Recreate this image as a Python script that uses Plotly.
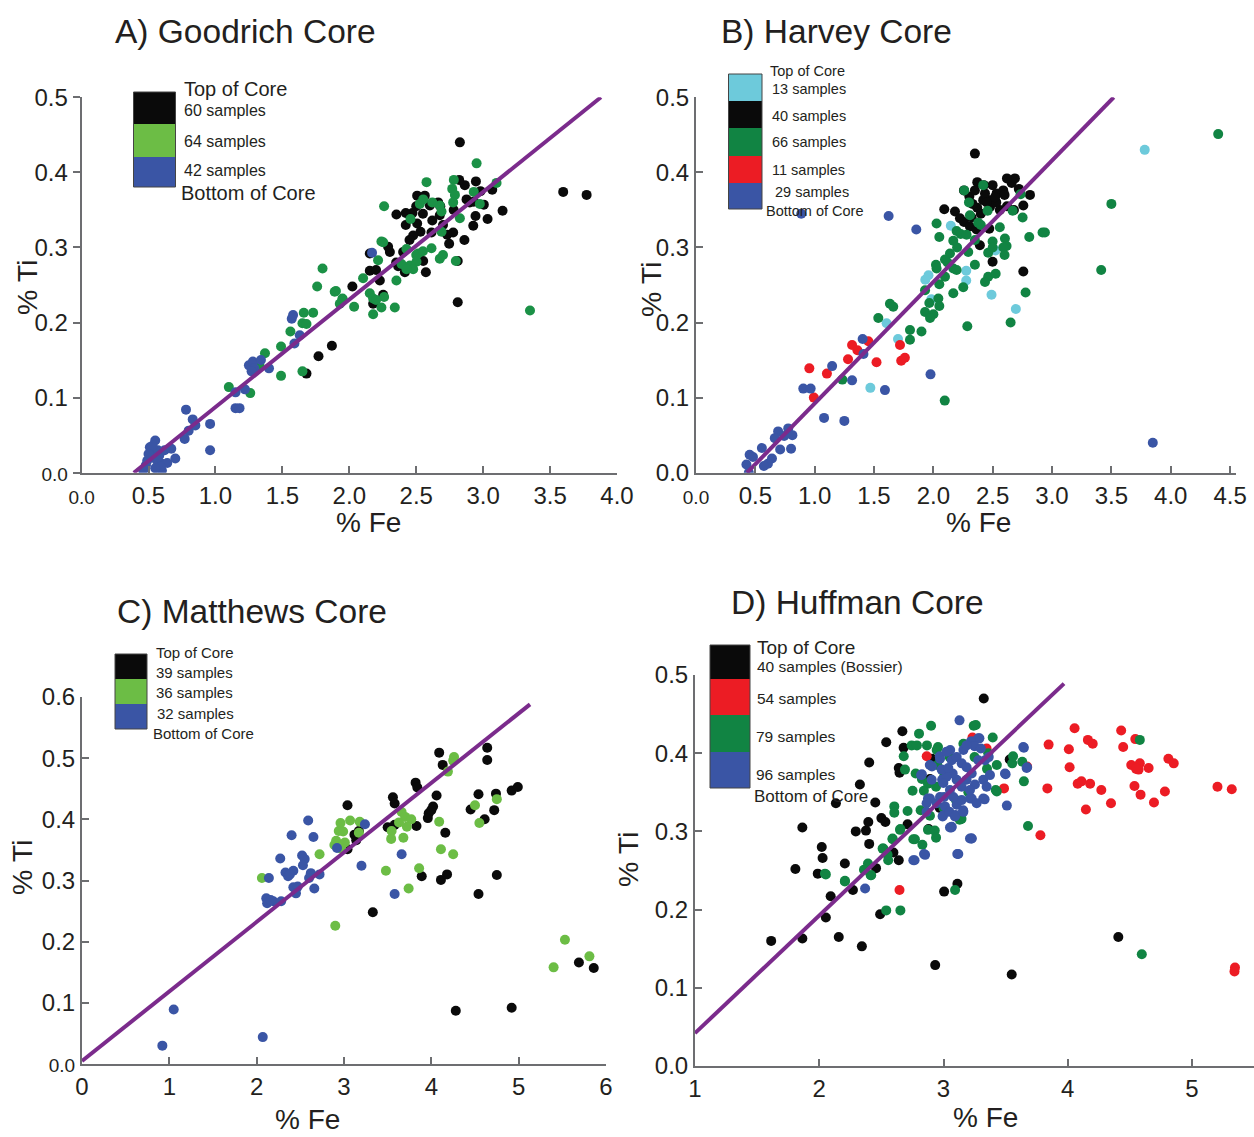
import plotly.graph_objects as go

W, H = 1254, 1137

# ---------------- DATA ----------------
# A) Goodrich Core
A_black_fe = [2.826,3.598,3.773,2.81,3.145,3.033,2.926,2.943,3.005,3.068,2.946,2.863,2.821,2.93,2.876,2.507,2.564,2.602,2.664,2.676,2.472,2.422,2.352,2.507,2.422,2.532,2.477,2.614,2.746,2.776,2.731,2.86,2.303,2.29,2.153,2.402,2.552,2.572,2.415,2.365,2.153,2.228,2.023,2.81,2.253,2.178,1.68,1.77,1.87,2.62,2.70,2.45,2.55,2.78,2.90,2.98,2.50,2.68,2.35,2.20]
A_black_ti = [0.440,0.374,0.370,0.227,0.349,0.338,0.329,0.342,0.357,0.377,0.388,0.383,0.390,0.361,0.364,0.369,0.369,0.356,0.360,0.343,0.346,0.346,0.344,0.332,0.330,0.321,0.316,0.320,0.305,0.320,0.317,0.310,0.294,0.301,0.292,0.294,0.282,0.267,0.267,0.275,0.269,0.256,0.248,0.282,0.237,0.225,0.132,0.155,0.169,0.336,0.330,0.310,0.345,0.350,0.360,0.375,0.355,0.355,0.280,0.270]
A_green_fe = [2.951,2.577,2.781,2.769,2.789,2.776,2.93,2.975,3.10,2.26,2.527,2.552,2.676,2.689,2.826,2.457,2.689,2.253,2.215,2.427,2.514,2.614,2.676,2.796,2.39,2.452,2.502,2.477,2.427,2.103,2.352,1.891,1.949,1.929,2.036,2.153,2.178,2.26,2.34,2.178,3.35,1.80,1.76,1.90,1.95,1.73,1.66,1.65,1.68,1.56,1.49,1.37,1.49,1.65,1.10,1.26,2.24,2.50,2.55,2.20,2.24,2.62,2.70,1.33]
A_green_ti = [0.412,0.387,0.390,0.378,0.370,0.360,0.374,0.358,0.386,0.355,0.358,0.364,0.356,0.348,0.339,0.338,0.321,0.307,0.283,0.298,0.292,0.299,0.285,0.282,0.278,0.276,0.281,0.271,0.271,0.259,0.256,0.241,0.232,0.225,0.221,0.239,0.232,0.234,0.220,0.211,0.216,0.272,0.248,0.242,0.231,0.213,0.213,0.199,0.198,0.188,0.168,0.159,0.129,0.135,0.114,0.106,0.308,0.290,0.295,0.230,0.220,0.360,0.290,0.142]
A_blue_fe = [0.46,0.48,0.51,0.52,0.55,0.57,0.58,0.60,0.60,0.64,0.67,0.70,0.54,0.49,0.77,0.78,0.80,0.83,0.85,0.96,0.96,1.15,1.15,1.18,1.22,1.25,1.28,1.29,1.34,1.40,1.57,1.58,1.59,1.63,2.17,0.53,0.50,0.56,0.62,0.59,1.27,0.55]
A_blue_ti = [0.003,0.010,0.034,0.028,0.043,0.030,0.023,0.012,0.003,0.013,0.032,0.019,0.021,0.016,0.045,0.084,0.056,0.071,0.063,0.065,0.030,0.107,0.086,0.086,0.111,0.143,0.148,0.139,0.150,0.139,0.205,0.210,0.172,0.183,0.293,0.036,0.025,0.017,0.030,0.008,0.135,0.006]
A_line_fe = [0.39, 3.88]
A_line_ti = [0.0, 0.5]

# B) Harvey Core
B_black_fe = [2.35,2.37,2.258,2.303,2.35,2.426,2.499,2.533,2.589,2.66,2.687,2.814,2.758,2.679,2.471,2.42,2.37,2.092,2.182,2.224,2.258,2.322,2.308,2.364,2.471,2.392,2.499,2.758,2.435,2.477,2.56,2.45,2.60,2.40,2.53,2.62,2.62,2.52,2.33,2.72]
B_black_ti = [0.425,0.387,0.376,0.368,0.376,0.383,0.383,0.372,0.376,0.386,0.392,0.370,0.356,0.350,0.363,0.363,0.353,0.351,0.348,0.339,0.334,0.340,0.328,0.324,0.325,0.303,0.281,0.268,0.372,0.354,0.350,0.360,0.370,0.345,0.360,0.355,0.392,0.367,0.358,0.378]
B_cyan_fe = [3.781,2.147,1.959,1.932,2.277,2.277,2.524,1.983,2.49,2.695,1.702,1.469,1.606]
B_cyan_ti = [0.430,0.329,0.263,0.257,0.269,0.256,0.296,0.231,0.237,0.218,0.178,0.113,0.199]
B_green_fe = [2.42,2.26,2.735,2.668,2.752,2.457,2.308,2.027,2.378,2.56,2.92,2.808,2.05,2.196,2.23,2.168,2.603,2.499,2.617,2.589,2.294,2.462,2.14,2.098,2.022,2.027,2.168,2.196,2.35,2.098,2.05,2.462,2.435,2.525,2.252,2.168,2.777,2.042,1.93,2.05,1.966,1.93,2.0,1.972,1.634,1.662,1.536,1.803,1.90,1.803,2.286,2.651,3.50,3.414,4.40,2.94,2.096,1.233,2.20,2.35,2.12,2.60,2.30,2.50,2.40,2.28]
B_green_ti = [0.383,0.376,0.371,0.349,0.340,0.349,0.343,0.332,0.333,0.327,0.320,0.314,0.314,0.322,0.318,0.309,0.312,0.308,0.302,0.300,0.294,0.293,0.292,0.284,0.277,0.272,0.272,0.270,0.277,0.261,0.251,0.261,0.254,0.265,0.247,0.239,0.240,0.232,0.243,0.222,0.226,0.214,0.211,0.206,0.225,0.221,0.206,0.190,0.188,0.177,0.195,0.200,0.358,0.270,0.451,0.320,0.096,0.124,0.300,0.310,0.280,0.290,0.360,0.300,0.330,0.317]
B_red_fe = [0.955,0.993,1.103,1.281,1.315,1.36,1.452,1.521,1.719,1.729,1.76]
B_red_ti = [0.139,0.100,0.132,0.151,0.170,0.163,0.175,0.147,0.170,0.149,0.153]
B_blue_fe = [0.887,1.623,1.856,1.404,1.411,1.147,0.904,0.966,1.315,1.592,1.976,1.079,1.25,3.849,0.692,0.664,0.777,0.812,0.743,0.555,0.709,0.801,0.640,0.606,0.572,0.452,0.425,0.445,0.48]
B_blue_ti = [0.345,0.342,0.324,0.178,0.158,0.142,0.112,0.112,0.123,0.110,0.131,0.073,0.069,0.040,0.055,0.046,0.059,0.050,0.049,0.033,0.031,0.032,0.019,0.012,0.009,0.024,0.011,0.000,0.021]
B_line_fe = [0.43, 3.52]
B_line_ti = [0.0, 0.5]

# C) Matthews Core
C_black_fe = [3.04,3.17,3.14,3.04,3.56,3.58,3.50,3.58,3.82,3.84,3.83,4.09,4.13,4.06,4.02,3.97,3.96,4.16,4.64,4.64,4.54,4.45,4.61,4.72,4.74,4.92,4.99,3.89,4.11,4.18,4.75,4.54,3.33,4.28,4.92,5.69,5.86,3.12,4.0]
C_black_ti = [0.423,0.381,0.366,0.351,0.436,0.426,0.387,0.391,0.460,0.452,0.389,0.509,0.489,0.439,0.421,0.410,0.402,0.378,0.517,0.497,0.441,0.416,0.400,0.415,0.442,0.447,0.453,0.307,0.301,0.310,0.309,0.278,0.248,0.087,0.092,0.166,0.157,0.375,0.415]
C_green_fe = [2.06,2.72,2.90,2.91,2.94,2.99,2.96,3.07,3.18,3.01,3.17,3.48,3.545,3.54,3.68,3.66,3.70,3.77,3.72,3.86,3.74,4.09,4.11,4.25,4.19,4.26,4.25,4.50,4.55,4.75,5.40,5.53,5.81,3.63,2.97,2.89]
C_green_ti = [0.304,0.343,0.226,0.365,0.381,0.380,0.394,0.398,0.396,0.362,0.378,0.316,0.381,0.368,0.370,0.412,0.404,0.400,0.388,0.320,0.287,0.396,0.351,0.343,0.478,0.502,0.496,0.423,0.394,0.433,0.158,0.203,0.176,0.395,0.352,0.358]
C_blue_fe = [0.92,1.05,2.07,2.59,2.40,2.65,2.27,2.52,2.55,2.53,2.14,2.33,2.42,2.36,2.62,2.72,2.60,2.42,2.47,2.66,2.45,2.11,2.12,2.19,2.28,2.92,3.24,3.20,3.66,3.58,2.16,2.38]
C_blue_ti = [0.030,0.089,0.044,0.398,0.374,0.371,0.336,0.341,0.335,0.325,0.304,0.313,0.316,0.307,0.312,0.310,0.304,0.289,0.290,0.287,0.279,0.271,0.263,0.266,0.266,0.353,0.392,0.324,0.343,0.278,0.268,0.310]
C_line_fe = [0.0, 5.13]
C_line_ti = [0.005, 0.588]

# D) Huffman Core
D_black_fe = [3.324,2.669,2.539,2.679,2.646,2.64,2.402,2.327,2.134,2.451,1.864,2.294,2.376,2.395,2.50,2.532,2.402,2.02,2.027,2.206,1.808,1.988,2.457,2.64,2.597,2.711,2.891,2.907,2.092,2.271,2.053,2.49,1.613,1.864,2.157,2.343,3.005,3.112,2.933,3.549,4.407,3.533,2.88,2.97]
D_black_ti = [0.470,0.428,0.414,0.407,0.375,0.381,0.388,0.360,0.336,0.337,0.305,0.300,0.301,0.312,0.317,0.312,0.284,0.280,0.266,0.259,0.252,0.246,0.253,0.263,0.273,0.309,0.367,0.393,0.217,0.225,0.190,0.194,0.160,0.163,0.165,0.153,0.223,0.233,0.129,0.117,0.165,0.392,0.303,0.330]
D_red_fe = [4.055,3.846,4.009,4.162,4.201,4.43,4.446,4.544,4.511,4.58,4.57,4.651,4.81,4.853,4.015,3.836,4.08,4.11,4.18,4.27,4.537,4.586,4.782,4.146,4.348,4.694,5.205,5.32,5.346,5.342,3.78,3.487,2.646,2.865,3.233,3.347,3.673,4.55]
D_red_ti = [0.432,0.411,0.405,0.417,0.412,0.429,0.408,0.418,0.385,0.387,0.379,0.381,0.393,0.387,0.382,0.355,0.361,0.364,0.361,0.353,0.358,0.347,0.351,0.328,0.336,0.337,0.357,0.354,0.126,0.121,0.295,0.355,0.225,0.396,0.420,0.406,0.383,0.380]
D_green_fe = [2.90,3.243,3.26,2.803,3.396,4.58,2.744,2.786,2.867,2.956,2.68,2.69,2.776,2.826,2.875,2.751,2.842,2.94,3.005,3.429,3.553,3.634,3.647,3.429,3.68,2.604,2.604,2.711,2.816,2.891,2.875,2.93,2.94,2.77,2.83,2.59,2.653,2.516,2.555,2.55,2.392,2.418,2.366,2.206,2.053,2.539,2.653,3.093,4.596,3.145,2.945,3.16,3.36,3.56,3.42,3.13,2.51,2.59,2.65,2.757,2.414,2.36,2.207,2.046,3.05,3.10,3.20,3.00,3.35,2.95,3.25]
D_green_ti = [0.435,0.435,0.436,0.425,0.420,0.417,0.410,0.410,0.410,0.408,0.396,0.379,0.374,0.367,0.361,0.352,0.352,0.357,0.370,0.385,0.387,0.389,0.364,0.351,0.307,0.332,0.324,0.326,0.327,0.320,0.302,0.301,0.292,0.290,0.283,0.290,0.303,0.278,0.263,0.270,0.259,0.244,0.251,0.236,0.245,0.199,0.199,0.225,0.143,0.316,0.404,0.412,0.400,0.396,0.353,0.315,0.278,0.291,0.302,0.290,0.244,0.251,0.237,0.246,0.395,0.340,0.350,0.330,0.380,0.385,0.395]
D_blue_fe = [3.129,3.289,3.233,3.647,3.673,3.50,3.51,3.331,3.227,3.158,3.096,2.995,3.064,3.227,3.119,2.852,2.767,2.369,2.826,2.907,2.972,3.054,3.364,2.989,3.005,2.875,3.28,3.22,3.25,3.30,3.334,2.89,2.82,2.97,3.025,3.066,3.106,3.146,3.186,3.227,3.186,3.253,3.146,3.106,3.074,3.025,2.999,3.052,2.972,2.891,2.864,2.945,3.012,3.106,3.146,3.213,3.32,3.267,3.495,3.669,3.642,3.213,3.111,3.066,2.993,2.757,2.843,3.047,3.092,3.16,2.864,2.905,2.985,3.039,3.16,3.186,3.28,3.32,3.374,3.347,3.213,3.079,3.226,3.052]
D_blue_ti = [0.442,0.419,0.415,0.407,0.382,0.373,0.333,0.341,0.342,0.327,0.321,0.320,0.305,0.291,0.271,0.270,0.263,0.227,0.373,0.383,0.393,0.404,0.395,0.366,0.344,0.342,0.419,0.415,0.409,0.406,0.391,0.385,0.372,0.396,0.402,0.391,0.395,0.387,0.382,0.374,0.366,0.360,0.357,0.366,0.374,0.370,0.362,0.353,0.344,0.342,0.336,0.336,0.332,0.334,0.340,0.342,0.342,0.336,0.374,0.381,0.408,0.291,0.271,0.306,0.319,0.263,0.271,0.325,0.319,0.325,0.325,0.366,0.379,0.381,0.404,0.410,0.391,0.366,0.372,0.357,0.353,0.344,0.291,0.305]
D_line_fe = [1.0, 3.97]
D_line_ti = [0.042, 0.489]

# Legend texts
A_leg = ["60 samples", "64 samples", "42 samples"]
B_leg = ["13 samples", "40 samples", "66 samples", "11 samples", "29 samples"]
C_leg = ["39 samples", "36 samples", "32 samples"]
D_leg = ["40 samples (Bossier)", "54 samples", "79 samples", "96 samples"]

# ---------------- STYLE ----------------
BLACK = "#0a0a0a"
GREEN_A = "#1b9146"
LGREEN = "#6cbd45"
DGREEN = "#118443"
BLUE = "#3a55a5"
CYAN = "#6dcadb"
RED = "#ec1c24"
PURPLE = "#7b2b8c"
TXT = "#231f20"
AXC = "#6d6e71"
FONT = "Liberation Sans, Arial, sans-serif"

def px(x): return x / W
def py(y): return 1 - y / H

fig = go.Figure()

def pts(fe, ti, color, ax, size=10):
    fig.add_trace(go.Scatter(x=fe, y=ti, mode="markers", xaxis=ax[0], yaxis=ax[1],
                             marker=dict(color=color, size=size, line=dict(width=0)),
                             showlegend=False, hoverinfo="x+y"))

def line(fe, ti, ax):
    fig.add_trace(go.Scatter(x=fe, y=ti, mode="lines", xaxis=ax[0], yaxis=ax[1],
                             line=dict(color=PURPLE, width=4), showlegend=False))

axA, axB, axC, axD = ("x", "y"), ("x2", "y2"), ("x3", "y3"), ("x4", "y4")
pts(A_black_fe, A_black_ti, BLACK, axA)
pts(A_green_fe, A_green_ti, GREEN_A, axA)
pts(A_blue_fe, A_blue_ti, BLUE, axA)
line(A_line_fe, A_line_ti, axA)

pts(B_black_fe, B_black_ti, BLACK, axB)
pts(B_cyan_fe, B_cyan_ti, CYAN, axB)
pts(B_green_fe, B_green_ti, DGREEN, axB)
pts(B_red_fe, B_red_ti, RED, axB)
pts(B_blue_fe, B_blue_ti, BLUE, axB)
line(B_line_fe, B_line_ti, axB)

pts(C_black_fe, C_black_ti, BLACK, axC)
pts(C_green_fe, C_green_ti, LGREEN, axC)
pts(C_blue_fe, C_blue_ti, BLUE, axC)
line(C_line_fe, C_line_ti, axC)

pts(D_black_fe, D_black_ti, BLACK, axD)
pts(D_red_fe, D_red_ti, RED, axD)
pts(D_green_fe, D_green_ti, DGREEN, axD)
pts(D_blue_fe, D_blue_ti, BLUE, axD)
line(D_line_fe, D_line_ti, axD)

def small(t, s=19):
    return '<span style="font-size:%dpx">%s</span>' % (s, t)

def xax(dom, rng, vals, texts, ticks="inside"):
    return dict(domain=dom, range=rng, tickvals=vals, ticktext=texts, showline=True,
                linecolor=AXC, linewidth=2, ticks=ticks, ticklen=7, tickwidth=1.5, tickcolor=AXC,
                showgrid=False, zeroline=False, automargin=False,
                tickfont=dict(family=FONT, size=24, color=TXT), fixedrange=True)

yA = [0, 0.1, 0.2, 0.3, 0.4, 0.5]
xA = [0, 0.5, 1, 1.5, 2, 2.5, 3, 3.5, 4]
xB = xA + [4.5]
yC = [0, 0.1, 0.2, 0.3, 0.4, 0.5, 0.6]

lay = dict(
    width=W, height=H, margin=dict(l=0, r=0, t=0, b=0, autoexpand=False),
    paper_bgcolor="white", plot_bgcolor="rgba(0,0,0,0)",
    font=dict(family=FONT, color=TXT),
    xaxis=xax([px(81.6), px(617)], [0, 4], xA, [small("0.0")] + ["%.1f" % v for v in xA[1:]]),
    yaxis=xax([py(472.7), py(97.3)], [0, 0.5], yA, [small("0.0")] + ["%.1f" % v for v in yA[1:]], "outside"),
    xaxis2=xax([px(696), px(1236)], [0, 4.55], xB, [small("0.0")] + ["%.1f" % v for v in xB[1:]]),
    yaxis2=xax([py(472.7), py(97.3)], [0, 0.5], yA, ["%.1f" % v for v in yA]),
    xaxis3=xax([px(82), px(606)], [0, 6], [0, 1, 2, 3, 4, 5, 6], ["0", "1", "2", "3", "4", "5", "6"]),
    yaxis3=xax([py(1064), py(697)], [0, 0.6], yC, [small("0.0")] + ["%.1f" % v for v in yC[1:]]),
    xaxis4=xax([px(695), 1.0], [1, 1 + (1254 - 695) / 124.25], [1, 2, 3, 4, 5], ["1", "2", "3", "4", "5"]),
    yaxis4=xax([py(1066), py(675)], [0, 0.5], yA, ["%.1f" % v for v in yA]),
)
for s in ["", "2", "3", "4"]:
    lay["xaxis" + s]["anchor"] = "y" + s
    lay["yaxis" + s]["anchor"] = "x" + s
fig.update_layout(**lay)

ann = []
def text(x, y, t, size, anchor="left", rot=0):
    ann.append(dict(x=px(x), y=py(y), xref="paper", yref="paper", text=t, showarrow=False,
                    xanchor=anchor, yanchor="middle", textangle=rot,
                    font=dict(family=FONT, size=size, color=TXT)))

# Titles
text(245, 31, "A) Goodrich Core", 33.5, "center")
text(836, 31, "B) Harvey Core", 33.5, "center")
text(252, 611, "C) Matthews Core", 33.5, "center")
text(857, 602, "D) Huffman Core", 33.5, "center")
# Axis titles
for (x, y) in [(368, 523), (978, 523), (307, 1119), (985, 1117)]:
    text(x, y, "% Fe", 28, "center")
for (x, y) in [(27, 288), (651, 290), (22, 868), (628, 860)]:
    text(x, y, "% Ti", 28.5, "center", -90)

shapes = []
def legend(x0, x1, ys, colors):
    for i, c in enumerate(colors):
        shapes.append(dict(type="rect", xref="paper", yref="paper", x0=px(x0), x1=px(x1),
                           y0=py(ys[i + 1]), y1=py(ys[i]), fillcolor=c, line=dict(width=0), layer="above"))
    shapes.append(dict(type="rect", xref="paper", yref="paper", x0=px(x0), x1=px(x1),
                       y0=py(ys[-1]), y1=py(ys[0]), fillcolor="rgba(0,0,0,0)",
                       line=dict(width=1, color="#444"), layer="above"))

# Legend A
legend(133.5, 175.5, [92, 124, 157, 187], [BLACK, LGREEN, BLUE])
text(182, 89, "Top of Core", 20)
text(182, 110, A_leg[0], 16)
text(182, 142, A_leg[1], 16)
text(182, 170, A_leg[2], 16)
text(179, 193, "Bottom of Core", 20)

# Legend B
legend(728.5, 762, [74, 101, 128, 156, 183, 209], [CYAN, BLACK, DGREEN, RED, BLUE])
text(768, 71, "Top of Core", 14.5)
text(770, 89, B_leg[0], 14.5)
text(770, 116, B_leg[1], 14.5)
text(770, 142, B_leg[2], 14.5)
text(770, 170, B_leg[3], 14.5)
text(773, 192, B_leg[4], 14.5)
text(764, 211, "Bottom of Core", 14.5)

# Legend C
legend(115, 147, [654, 679, 704, 729], [BLACK, LGREEN, BLUE])
text(154, 652, "Top of Core", 15)
text(154, 672, C_leg[0], 15)
text(154, 692, C_leg[1], 15)
text(155, 713, C_leg[2], 15)
text(151, 733, "Bottom of Core", 15)

# Legend D
legend(710, 750, [645, 679, 715, 752, 788], [BLACK, RED, DGREEN, BLUE])
text(755, 647, "Top of Core", 19)
text(755, 667, D_leg[0], 15.5)
text(755, 698, D_leg[1], 15.5)
text(754, 736, D_leg[2], 15.5)
text(754, 774, D_leg[3], 15.5)
text(752, 796, "Bottom of Core", 17)

fig.update_layout(annotations=ann, shapes=shapes)
fig.write_html("out.html")
